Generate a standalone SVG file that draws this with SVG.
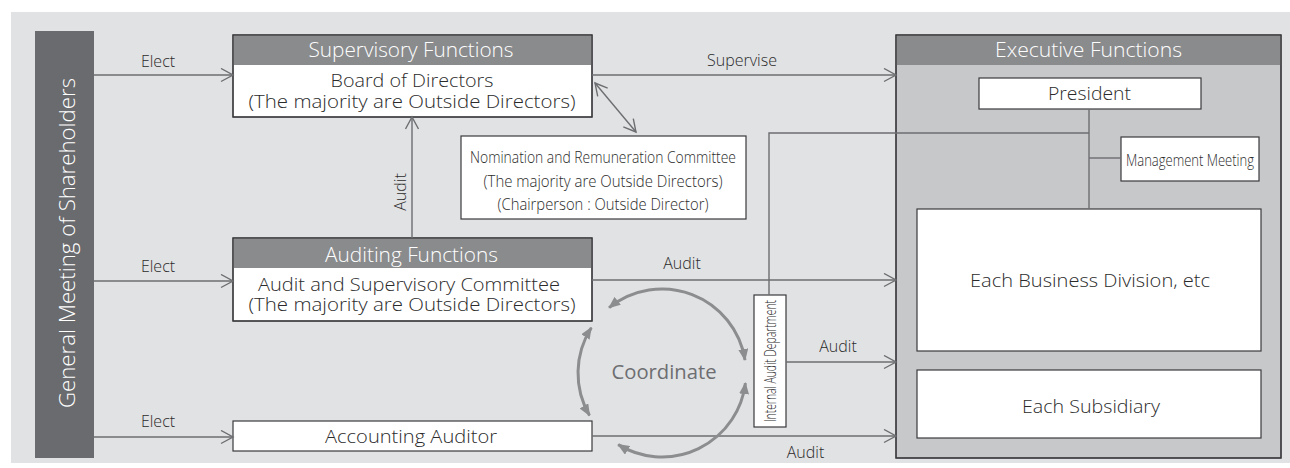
<svg xmlns="http://www.w3.org/2000/svg" width="1290" height="468" viewBox="0 0 1290 468">
<style>
.t{font-family:"Open Sans","Noto Sans","DejaVu Sans",sans-serif;font-weight:300;fill:#2b2b2b}
.lbl{font-size:16px;text-anchor:middle}
.body{font-size:18px;text-anchor:middle}
.hdr{font-size:20px;text-anchor:middle;fill:#ffffff}
.cond{font-size:17px;text-anchor:middle}
.box{fill:#ffffff;stroke:#3a3a3c;stroke-width:1.2}
.hd{fill:#8a8b8d;stroke:none}
.ln{fill:none;stroke:#6d6e71;stroke-width:1.4}
.arr{marker-end:url(#oa)}
.co{fill:none;stroke:#8c8d8f;stroke-width:3;marker-start:url(#fa);marker-end:url(#fa)}
</style>
<defs>
<marker id="oa" markerUnits="userSpaceOnUse" viewBox="-1 -1 15 15" markerWidth="15" markerHeight="15" refX="12" refY="6.5" orient="auto-start-reverse">
<path d="M0,0 L12,6.5 L0,13" fill="none" stroke="#6d6e71" stroke-width="1.4"/>
</marker>
<marker id="fa" markerUnits="userSpaceOnUse" viewBox="0 0 12 10" markerWidth="12" markerHeight="10" refX="11" refY="5" orient="auto-start-reverse">
<path d="M0,0 L12,5 L0,10 z" fill="#8c8d8f"/>
</marker>
</defs>
<rect x="11" y="12" width="1279" height="451" fill="#e1e2e4"/>

<g id="shareholders">
<rect x="35" y="31" width="59" height="427" fill="#6a6b6e"/>
<text class="t" transform="translate(75,243) rotate(-90)" font-size="22" text-anchor="middle" style="fill:#ffffff" textLength="330" lengthAdjust="spacingAndGlyphs">General Meeting of Shareholders</text>
</g>

<g id="supervisory">
<rect class="box" x="233" y="35" width="359" height="82"/>
<rect class="hd" x="233.6" y="35.6" width="357.8" height="29.4"/>
<rect x="233" y="35" width="359" height="82" fill="none" stroke="#3a3a3c" stroke-width="1.2"/>
<text class="t hdr" x="411" y="57" textLength="205" lengthAdjust="spacingAndGlyphs">Supervisory Functions</text>
<text class="t body" x="412" y="87" textLength="163" lengthAdjust="spacingAndGlyphs">Board of Directors</text>
<text class="t body" x="412" y="108" textLength="327" lengthAdjust="spacingAndGlyphs">(The majority are Outside Directors)</text>
</g>

<g id="nomination">
<rect class="box" x="461" y="136" width="285" height="83"/>
<text class="t cond" x="603" y="163" textLength="266" lengthAdjust="spacingAndGlyphs">Nomination and Remuneration Committee</text>
<text class="t cond" x="603" y="187" textLength="239" lengthAdjust="spacingAndGlyphs">(The majority are Outside Directors)</text>
<text class="t cond" x="603" y="210" textLength="211" lengthAdjust="spacingAndGlyphs">(Chairperson : Outside Director)</text>
</g>

<g id="auditing">
<rect class="box" x="233" y="238" width="359" height="83"/>
<rect class="hd" x="233.6" y="238.6" width="357.8" height="29.4"/>
<rect x="233" y="238" width="359" height="83" fill="none" stroke="#3a3a3c" stroke-width="1.2"/>
<text class="t hdr" x="411.5" y="262" textLength="173" lengthAdjust="spacingAndGlyphs">Auditing Functions</text>
<text class="t body" x="409" y="291" textLength="302" lengthAdjust="spacingAndGlyphs">Audit and Supervisory Committee</text>
<text class="t body" x="412" y="311" textLength="327" lengthAdjust="spacingAndGlyphs">(The majority are Outside Directors)</text>
</g>

<g id="accounting">
<rect class="box" x="233" y="421" width="359" height="30"/>
<text class="t body" x="411" y="443" textLength="172" lengthAdjust="spacingAndGlyphs">Accounting Auditor</text>
</g>

<g id="executive">
<rect x="896" y="35" width="385" height="423" fill="#c7c8ca" stroke="#3a3a3c" stroke-width="1.2"/>
<rect class="hd" x="896.6" y="35.6" width="383.8" height="29.4"/>
<rect x="896" y="35" width="385" height="423" fill="none" stroke="#3a3a3c" stroke-width="1.2"/>
<text class="t hdr" x="1088.5" y="57" textLength="187" lengthAdjust="spacingAndGlyphs">Executive Functions</text>
</g>

<g id="president">
<rect class="box" x="979" y="78" width="222" height="31"/>
<text class="t body" x="1089.5" y="100" textLength="83" lengthAdjust="spacingAndGlyphs">President</text>
</g>

<g id="management">
<rect class="box" x="1121" y="137" width="138" height="44"/>
<text class="t" x="1190" y="166" font-size="16" text-anchor="middle" textLength="128" lengthAdjust="spacingAndGlyphs">Management Meeting</text>
</g>

<g id="business">
<rect class="box" x="917" y="209" width="344" height="142"/>
<text class="t body" x="1090" y="287" textLength="240" lengthAdjust="spacingAndGlyphs">Each Business Division, etc</text>
</g>

<g id="subsidiary">
<rect class="box" x="917" y="370" width="344" height="68"/>
<text class="t body" x="1091" y="413" textLength="138" lengthAdjust="spacingAndGlyphs">Each Subsidiary</text>
</g>

<g id="internal-audit">
<rect class="box" x="754" y="295" width="32" height="132"/>
<text class="t" transform="translate(776,361) rotate(-90)" font-size="16" text-anchor="middle" textLength="122" lengthAdjust="spacingAndGlyphs">Internal Audit Department</text>
</g>

<g id="connectors">
<line class="ln arr" x1="94" y1="75" x2="233" y2="75"/>
<line class="ln arr" x1="94" y1="281" x2="233" y2="281"/>
<line class="ln arr" x1="94" y1="437" x2="233" y2="437"/>
<line class="ln arr" x1="412" y1="238" x2="412" y2="117"/>
<line class="ln arr" x1="592" y1="75" x2="896" y2="75"/>
<line class="ln arr" x1="592" y1="280" x2="896" y2="280"/>
<line class="ln arr" x1="786" y1="362" x2="896" y2="362"/>
<line class="ln arr" x1="592" y1="436" x2="896" y2="436"/>
<line class="ln" x1="595" y1="83" x2="636" y2="132" marker-start="url(#oa)" marker-end="url(#oa)"/>
<polyline class="ln" points="769,295 769,133 1089,133"/>
<line class="ln" x1="1089" y1="109" x2="1089" y2="209"/>
<line class="ln" x1="1089" y1="158" x2="1121" y2="158"/>
<path class="co" d="M609.1,307.7 A84,84 0 0 1 745,360"/>
<path class="co" d="M591.3,327.7 A84,84 0 0 0 589.5,415.4"/>
<path class="co" d="M618.2,444.6 A84,84 0 0 0 745.4,383.1"/>
<text class="t lbl" x="158" y="67">Elect</text>
<text class="t lbl" x="158" y="272">Elect</text>
<text class="t lbl" x="158" y="427">Elect</text>
<text class="t lbl" transform="translate(406,192) rotate(-90)">Audit</text>
<text class="t lbl" x="742" y="66">Supervise</text>
<text class="t lbl" x="682" y="269">Audit</text>
<text class="t lbl" x="838" y="352">Audit</text>
<text class="t lbl" x="805.5" y="458">Audit</text>
<text class="t" x="664" y="379" font-size="20" text-anchor="middle" style="fill:#6d6e71;font-weight:400" textLength="105" lengthAdjust="spacingAndGlyphs">Coordinate</text>
</g>
</svg>
